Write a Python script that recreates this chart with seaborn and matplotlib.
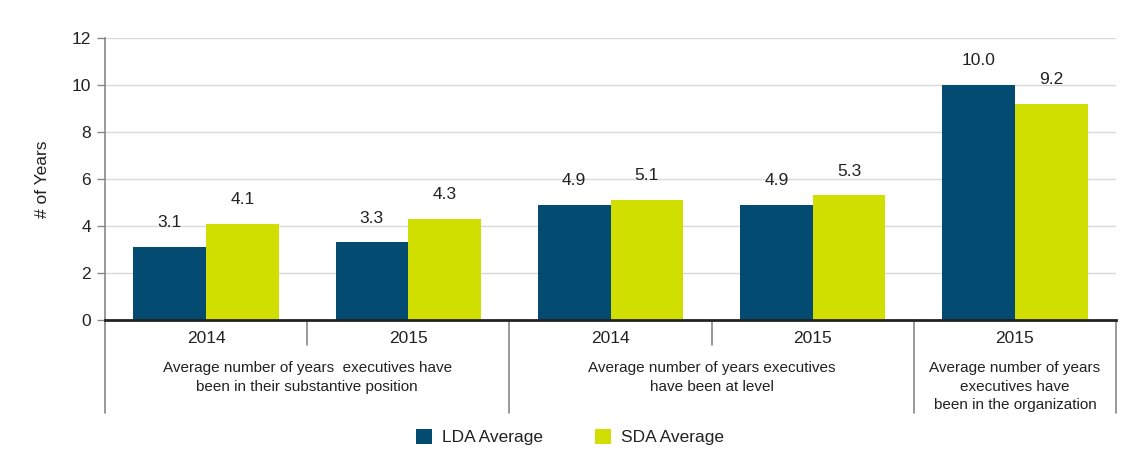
import matplotlib
matplotlib.use("Agg")
import matplotlib.pyplot as plt
import seaborn as sns
import pandas as pd
from matplotlib import font_manager

years = ["2014", "2015", "2014", "2015", "2015"]
lda_values = [3.1, 3.3, 4.9, 4.9, 10.0]
sda_values = [4.1, 4.3, 5.1, 5.3, 9.2]
series_names = ["LDA Average", "SDA Average"]
group_labels = [
    "Average number of years  executives have\nbeen in their substantive position",
    "Average number of years executives\nhave been at level",
    "Average number of years\nexecutives have\nbeen in the organization",
]
group_spans = [(0, 2), (2, 4), (4, 5)]
y_ticks = [0, 2, 4, 6, 8, 10, 12]

sns.set_theme(style="white")
fams = [f.name for f in font_manager.fontManager.ttflist]
family = "Liberation Sans Narrow" if "Liberation Sans Narrow" in fams else "Liberation Sans"
plt.rcParams["font.family"] = [family, "DejaVu Sans"]

cats = [f"c{i}" for i in range(len(years))]
df = pd.DataFrame({
    "cat": cats * 2,
    "series": [series_names[0]] * len(cats) + [series_names[1]] * len(cats),
    "value": lda_values + sda_values,
})

colors = ["#034b70", "#d0de00"]
fig = plt.figure(figsize=(11.36, 4.61), dpi=100)
ax = fig.add_axes([105 / 1136, 1 - 320 / 461, (1116 - 105) / 1136, (320 - 38) / 461])

sns.barplot(data=df, x="cat", y="value", hue="series", palette=colors,
            width=0.72, ax=ax, saturation=1, legend=True, linewidth=0)

ax.set_ylim(0, 12)
ax.set_xlim(-0.5, len(cats) - 0.5)
ax.set_yticks(y_ticks)
ax.set_yticklabels([str(t) for t in y_ticks], fontsize=12.5, color="#222222")
ax.yaxis.grid(True, color="#d9d9d9", linewidth=1)
ax.set_axisbelow(True)
ax.tick_params(axis="y", length=6, width=1, color="#888888", left=True, pad=4)
ax.tick_params(axis="x", bottom=False, labelbottom=False)
ax.set_xlabel("")
ax.set_ylabel("# of Years", fontsize=12.5, color="#222222", labelpad=16)

for s in ["top", "right"]:
    ax.spines[s].set_visible(False)
ax.spines["left"].set_color("#888888")
ax.spines["left"].set_linewidth(1.2)
ax.spines["bottom"].set_color("#222222")
ax.spines["bottom"].set_linewidth(2)

for cont in ax.containers:
    ax.bar_label(cont, fmt="%.1f", padding=12, fontsize=12.5, color="#222222")

trans = ax.get_xaxis_transform()
for i, y in enumerate(years):
    ax.text(i, -0.04, y, transform=trans, ha="center", va="top", fontsize=12.5, color="#222222")
for (a, b) in group_spans:
    for k in range(a + 1, b):
        ax.plot([k - 0.5, k - 0.5], [0, -0.09], transform=trans, color="#888888", lw=1.2, clip_on=False)
bounds = sorted(set([a for a, b in group_spans] + [b for a, b in group_spans]))
for k in bounds:
    ax.plot([k - 0.5, k - 0.5], [0, -0.33], transform=trans, color="#888888", lw=1.2, clip_on=False)
for (a, b), lab in zip(group_spans, group_labels):
    ax.text((a + b - 1) / 2, -0.145, lab, transform=trans, ha="center", va="top",
            fontsize=11, color="#222222", linespacing=1.42)

handles, labels = ax.get_legend_handles_labels()
ax.get_legend().remove()
leg = fig.legend(handles, labels, loc="center", bbox_to_anchor=(570 / 1136, 1 - 437 / 461),
                 ncol=2, frameon=False, fontsize=12.5, handlelength=0.9, handleheight=1.0,
                 columnspacing=3.0, handletextpad=0.6)
for t in leg.get_texts():
    t.set_color("#222222")

fig.savefig("out.png", dpi=100)
